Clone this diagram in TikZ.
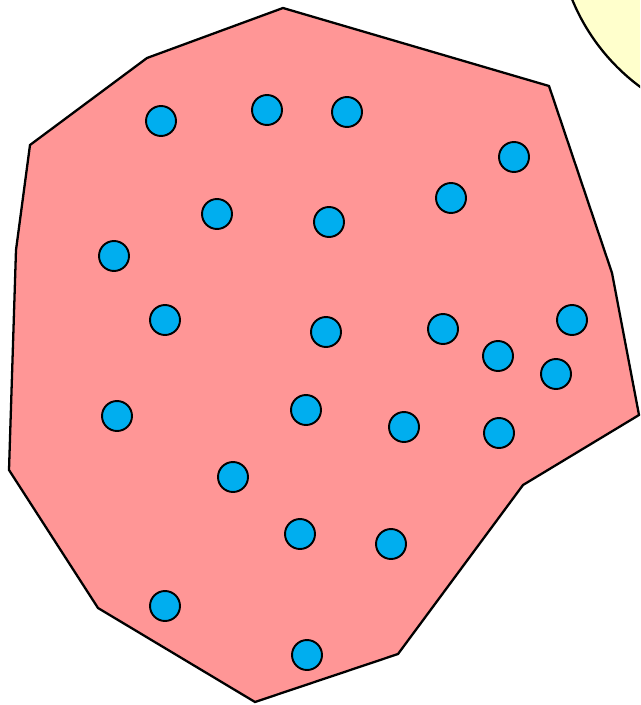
\documentclass[tikz,border=0pt]{standalone}
\usepackage{tikz}

\definecolor{regionpink}{RGB}{255,150,150}
\definecolor{pointblue}{RGB}{0,174,239}
\definecolor{blobyellow}{RGB}{255,255,204}

\begin{document}
\begin{tikzpicture}[x=0.02cm, y=-0.02cm,
        pt/.style={circle, draw, fill=pointblue, line width=1.1pt, minimum size=0.6cm, inner sep=0pt},
        region/.style={draw, fill=regionpink, line width=1.3pt, line join=miter}]
                \useasboundingbox (0,0) rectangle (640,705);
                \clip (0,0) rectangle (640,705);

                % Neighbouring blob
                \draw[fill=blobyellow, line width=1.3pt] (762,-78) circle[radius=205];

                % Region
                \draw[region] (283,8) -- (549,86) -- (612,273) -- (639,415) -- (523,485)
                        -- (398,654) -- (255,702) -- (98,608) -- (9,470) -- (16,250)
                        -- (30,145) -- (147,58) -- cycle;

                % Points
                \node[pt] (p1) at (161,121) {};
                \node[pt] (p2) at (267,110) {};
                \node[pt] (p3) at (347,112) {};
                \node[pt] (p4) at (514,157) {};
                \node[pt] (p5) at (451,198) {};
                \node[pt] (p6) at (217,214) {};
                \node[pt] (p7) at (329,222) {};
                \node[pt] (p8) at (114,256) {};
                \node[pt] (p9) at (165,320) {};
                \node[pt] (p10) at (326,332) {};
                \node[pt] (p11) at (443,329) {};
                \node[pt] (p12) at (498,356) {};
                \node[pt] (p13) at (572,320) {};
                \node[pt] (p14) at (556,374) {};
                \node[pt] (p15) at (117,416) {};
                \node[pt] (p16) at (306,410) {};
                \node[pt] (p17) at (404,427) {};
                \node[pt] (p18) at (499,433) {};
                \node[pt] (p19) at (233,477) {};
                \node[pt] (p20) at (300,534) {};
                \node[pt] (p21) at (391,544) {};
                \node[pt] (p22) at (165,606) {};
                \node[pt] (p23) at (307,655) {};
            \end{tikzpicture}
\end{document}
